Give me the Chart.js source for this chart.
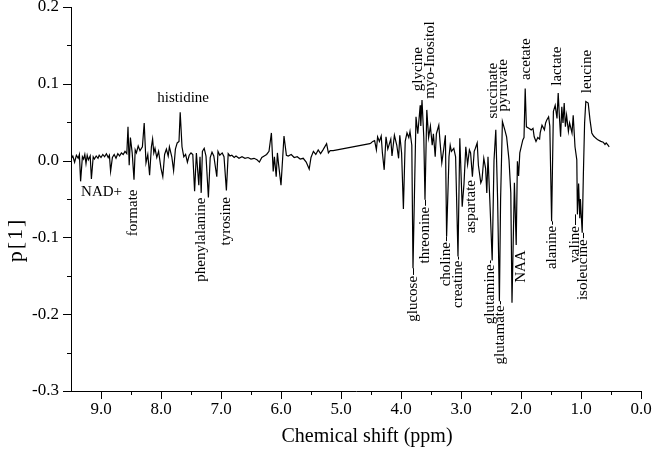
<!DOCTYPE html>
<html>
<head>
<meta charset="utf-8">
<script src="https://cdn.jsdelivr.net/npm/chart.js@4/dist/chart.umd.min.js"></script>
<style>
body { margin: 0; background: #fff; }
canvas { display: block; }
</style>
</head>
<body>
<canvas id="myChart" width="656" height="453"></canvas>
<script>
// loading plot p[1] vs chemical shift
let ppm = [
	9.50, 9.47, 9.44, 9.41, 9.38, 9.36, 9.34, 9.31, 9.29, 9.27, 9.25, 9.23, 9.21, 9.18, 9.16, 9.13, 9.11, 9.08, 9.05, 9.03,
	9.00, 8.97, 8.94, 8.91, 8.88, 8.86, 8.84, 8.81, 8.78, 8.75, 8.72, 8.69, 8.66, 8.63, 8.60, 8.57, 8.55, 8.53, 8.51, 8.48,
	8.45, 8.43, 8.41, 8.38, 8.35, 8.31, 8.28, 8.25, 8.22, 8.19, 8.16, 8.14, 8.12, 8.10, 8.07, 8.04, 8.00, 7.97, 7.94, 7.91,
	7.88, 7.86, 7.82, 7.79, 7.76, 7.73, 7.70, 7.68, 7.65, 7.62, 7.59, 7.56, 7.53, 7.50, 7.47, 7.44, 7.41, 7.37, 7.35, 7.33,
	7.31, 7.28, 7.25, 7.21, 7.18, 7.15, 7.12, 7.07, 7.05, 7.02, 6.98, 6.95, 6.91, 6.88, 6.85, 6.82, 6.78, 6.75, 6.70, 6.65,
	6.60, 6.55, 6.50, 6.45, 6.40, 6.36, 6.32, 6.28, 6.24, 6.20, 6.16, 6.13, 6.11, 6.08, 6.06, 6.04, 6.00, 5.95, 5.91, 5.88,
	5.83, 5.78, 5.73, 5.68, 5.63, 5.58, 5.53, 5.50, 5.46, 5.42, 5.38, 5.34, 5.30, 5.24, 5.21, 5.18, 5.13, 4.52, 4.50, 4.47,
	4.44, 4.41, 4.39, 4.36, 4.33, 4.31, 4.28, 4.25, 4.22, 4.17, 4.15, 4.11, 4.07, 4.04, 4.02, 3.99, 3.96, 3.93, 3.90, 3.87,
	3.85, 3.82, 3.80, 3.77, 3.75, 3.72, 3.68, 3.67, 3.65, 3.62, 3.60, 3.57, 3.54, 3.51, 3.48, 3.46, 3.43, 3.41, 3.37, 3.35,
	3.32, 3.29, 3.26, 3.24, 3.20, 3.18, 3.16, 3.12, 3.09, 3.05, 3.02, 2.98, 2.95, 2.92, 2.89, 2.86, 2.84, 2.81, 2.78, 2.76,
	2.73, 2.71, 2.67, 2.65, 2.62, 2.59, 2.57, 2.55, 2.52, 2.48, 2.45, 2.42, 2.39, 2.36, 2.34, 2.31, 2.27, 2.24, 2.20, 2.17,
	2.15, 2.11, 2.08, 2.06, 2.04, 2.02, 1.97, 1.95, 1.93, 1.91, 1.87, 1.83, 1.80, 1.78, 1.75, 1.72, 1.69, 1.68, 1.65, 1.61,
	1.59, 1.57, 1.54, 1.52, 1.49, 1.46, 1.43, 1.40, 1.38, 1.36, 1.34, 1.32, 1.30, 1.28, 1.26, 1.24, 1.21, 1.19, 1.15, 1.13,
	1.10, 1.07, 1.06, 1.04, 1.02, 1.01, 0.98, 0.96, 0.94, 0.92, 0.88, 0.85, 0.82, 0.79, 0.75, 0.72, 0.67, 0.63, 0.60, 0.58,
	0.55, 0.53
];
let loading = [
	0.002, 0.006, -0.002, 0.007, 0.003, 0.008, -0.027, 0.005, 0.002, 0.008, -0.004, 0.007, 0.001, 0.006, -0.024, 0.005, 0.002, 0.006, 0.003, 0.007,
	0.004, 0.008, 0.005, 0.009, 0.004, 0.007, -0.014, 0.004, 0.008, 0.003, 0.009, 0.006, 0.010, 0.008, 0.012, 0.009, 0.044, -0.006, 0.030, 0.010,
	-0.025, 0.014, 0.010, 0.019, 0.013, 0.018, 0.049, -0.003, 0.008, -0.019, 0.018, 0.028, 0.010, 0.016, 0.004, 0.012, -0.010, -0.021, 0.008, 0.015,
	0.006, 0.018, 0.005, -0.013, 0.015, 0.023, 0.025, 0.063, 0.018, 0.005, 0.008, -0.002, 0.007, 0.010, 0.008, -0.040, 0.010, -0.032, 0.005, -0.042,
	0.012, 0.016, 0.006, -0.048, 0.004, 0.011, 0.006, -0.021, 0.012, 0.007, 0.010, 0.005, -0.039, 0.009, 0.006, 0.007, 0.004, 0.006, 0.003, 0.005,
	0.003, 0.004, 0.002, 0.003, 0.001, -0.002, 0.004, 0.006, 0.008, 0.012, 0.036, -0.014, 0.005, -0.021, 0.010, -0.005, -0.032, 0.032, 0.007, 0.006,
	0.008, 0.004, 0.005, 0.002, 0.003, -0.002, -0.011, 0.004, 0.012, 0.008, 0.014, 0.009, 0.014, 0.022, 0.010, 0.013, 0.013, 0.022, 0.023, 0.025,
	0.026, 0.014, 0.031, 0.025, 0.032, 0.010, -0.012, 0.031, 0.015, 0.028, 0.006, 0.033, 0.020, 0.003, 0.033, 0.010, -0.063, 0.025, 0.036, 0.030,
	0.038, 0.020, -0.140, -0.020, 0.057, 0.035, 0.072, 0.045, 0.079, 0.030, -0.051, 0.066, 0.030, 0.045, 0.020, 0.035, 0.005, 0.035, 0.046, 0.025,
	-0.003, 0.014, 0.033, -0.099, 0.005, 0.020, 0.012, 0.016, 0.005, -0.125, 0.029, -0.060, -0.030, 0.018, -0.005, 0.014, 0.010, -0.021, 0.012, 0.016,
	0.023, -0.006, -0.029, -0.025, 0.003, -0.010, -0.042, 0.005, -0.051, -0.130, 0.000, 0.040, -0.050, -0.183, -0.050, 0.051, 0.040, 0.031, 0.001, -0.042,
	-0.185, -0.029, -0.110, -0.001, -0.020, 0.010, 0.027, 0.030, 0.094, 0.044, 0.042, 0.040, 0.042, 0.031, 0.025, 0.030, 0.028, 0.036, 0.046, 0.040,
	0.049, 0.053, 0.057, 0.045, -0.079, 0.064, 0.072, 0.055, 0.088, 0.057, 0.031, 0.070, 0.049, 0.075, 0.044, 0.059, 0.038, 0.049, 0.036, 0.059,
	0.018, 0.001, -0.070, -0.030, -0.075, -0.050, -0.094, -0.016, 0.049, 0.077, 0.075, 0.053, 0.036, 0.032, 0.029, 0.027, 0.025, 0.024, 0.021, 0.023,
	0.020, 0.018
];

// metabolite labels: name, centre (ppm, p[1]), rotated?, leader line to the peak?
let labelNames = ["histidine", "NAD+", "formate", "phenylalanine", "tyrosine", "glucose", "threonine", "choline", "creatine", "aspartate",
	"glutamine", "glutamate", "NAA", "alanine", "valine", "isoleucine", "glycine", "myo-Inositol", "succinate", "pyruvate",
	"acetate", "lactate", "leucine"];
let labelPpm = [7.63, 8.99, 8.46, 7.33, 6.91, 3.795, 3.595, 3.253, 3.053, 2.828,
	2.512, 2.345, 2.003, 1.487, 1.095, 0.962, 3.712, 3.512, 2.462, 2.295,
	1.92, 1.395, 0.895];
let labelVal = [0.081, -0.041, -0.068, -0.103, -0.079, -0.180, -0.097, -0.135, -0.161, -0.060,
	-0.174, -0.227, -0.138, -0.113, -0.109, -0.142, 0.119, 0.131, 0.091, 0.098,
	0.132, 0.123, 0.116];
let labelRot = [false, false, true, true, true, true, true, true, true, true,
	true, true, true, true, true, true, true, true, true, true,
	true, true, true];
let labelLead = [false, false, false, false, false, true, true, true, true, false,
	true, true, false, true, true, true, false, false, false, false,
	false, false, false];

let serif = '"Liberation Serif", "Times New Roman", serif';

function fmt1(v){
	return (Math.round(v*10)/10).toFixed(1);
}

let annotate = {
	id: 'annotate',
	afterDraw: function(chart){
		let c = chart.ctx;
		let xs = chart.scales.x, ys = chart.scales.y;
		let area = chart.chartArea;
		c.save();
		c.strokeStyle = '#000';
		c.lineWidth = 1;
		// y ticks, major every 0.1, minor every 0.05
		for(let k=-6;k<=4;k++){
			let py = Math.round(ys.getPixelForValue(k*0.05)) + 0.5;
			let len = (k%2==0) ? 8 : 4;
			c.beginPath();
			c.moveTo(area.left, py);
			c.lineTo(area.left - len, py);
			c.stroke();
		}
		// x ticks, major every 1.0, minor every 0.5
		for(let k=0;k<=18;k++){
			let px = Math.round(xs.getPixelForValue(k*0.5)) + 0.5;
			let len = (k%2==0) ? 8 : 4;
			c.beginPath();
			c.moveTo(px, area.bottom);
			c.lineTo(px, area.bottom + len);
			c.stroke();
		}
		// labels
		c.fillStyle = '#000';
		c.font = '15px ' + serif;
		c.textAlign = 'center';
		c.textBaseline = 'middle';
		for(let i in labelNames){
			let name = labelNames[i];
			let px = xs.getPixelForValue(labelPpm[i]);
			let py = ys.getPixelForValue(labelVal[i]);
			if(labelRot[i]){
				c.save();
				c.translate(px, py);
				c.rotate(-Math.PI/2);
				c.fillText(name, 0, 0);
				c.restore();
			}
			else
				c.fillText(name, px, py);
			if(labelLead[i]){
				// deepest point of the spectrum near the label
				let tip = 1;
				for(let j in ppm){
					if(Math.abs(ppm[j]-labelPpm[i])<0.04 && loading[j]<tip)
						tip = loading[j];
				}
				let top = py - c.measureText(name).width/2 - 1;
				let tipY = ys.getPixelForValue(tip);
				if(tipY < top){
					let lx = Math.round(px) + 0.5;
					c.beginPath();
					c.moveTo(lx, top);
					c.lineTo(lx, tipY);
					c.stroke();
				}
			}
		}
		// axis titles
		c.font = '20px ' + serif;
		c.textBaseline = 'middle';
		c.fillText("Chemical shift (ppm)", 367, 437);
		c.save();
		c.translate(16, 240);
		c.rotate(-Math.PI/2);
		c.font = '22px ' + serif;
		c.letterSpacing = '2px';
		c.fillText("p[1]", 0, 0);
		c.restore();
		c.restore();
	}
};

let points = [];
for(let i in ppm){
	points.push({x: ppm[i], y: loading[i]});
}

let ctx = document.getElementById('myChart');
let chart = new Chart(ctx, {
	type: 'line',
	data: {
		datasets: [{
			data: points,
			borderColor: '#000',
			borderWidth: 1.2,
			pointRadius: 0,
			tension: 0,
			fill: false
		}]
	},
	options: {
		animation: false,
		responsive: false,
		layout: {padding: {top: 7, right: 15, left: 0, bottom: 0}},
		plugins: {
			legend: {display: false},
			tooltip: {enabled: false}
		},
		scales: {
			x: {
				type: 'linear',
				reverse: true,
				min: 0,
				max: 9.5,
				grid: {display: false, drawTicks: false},
				border: {display: true, color: '#000', width: 1},
				ticks: {
					stepSize: 1,
					includeBounds: false,
					autoSkip: false,
					maxRotation: 0,
					padding: 8,
					color: '#000',
					font: {family: serif, size: 17},
					callback: function(v){ return fmt1(v); }
				},
				afterFit: function(scale){
					scale.height = 62;
					scale.paddingLeft = 0;
					scale.paddingRight = 0;
				}
			},
			y: {
				type: 'linear',
				min: -0.3,
				max: 0.2,
				grid: {display: false, drawTicks: false},
				border: {display: true, color: '#000', width: 1},
				ticks: {
					stepSize: 0.1,
					padding: 12,
					color: '#000',
					font: {family: serif, size: 17},
					callback: function(v){ return fmt1(v); }
				},
				afterFit: function(scale){
					scale.width = 71;
					scale.paddingTop = 0;
					scale.paddingBottom = 0;
				}
			}
		}
	},
	plugins: [annotate]
});
</script>
</body>
</html>
